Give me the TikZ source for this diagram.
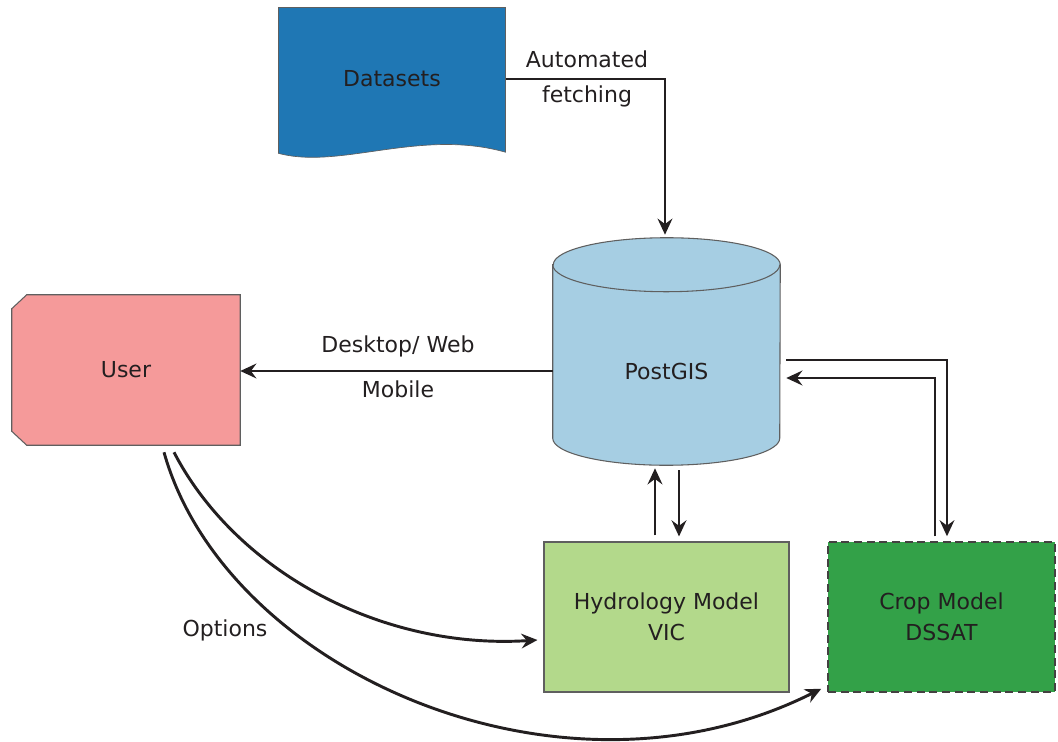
\documentclass[tikz,border=0pt]{standalone}
\usepackage{fontspec}
\setmainfont{DejaVu Sans}
\usepackage{tikz}
\usetikzlibrary{calc, positioning, arrows.meta}
\definecolor{InkBlack}{RGB}{35, 31, 32}
\definecolor{EdgeGrey}{RGB}{95, 95, 95}
\definecolor{DataBlue}{RGB}{31, 119, 180}
\definecolor{StoreBlue}{RGB}{166, 206, 227}
\definecolor{UserPink}{RGB}{245, 154, 154}
\definecolor{HydroGreen}{RGB}{179, 217, 139}
\definecolor{CropGreen}{RGB}{51, 161, 72}

\tikzset{
  txt/.style={font=\fontsize{16.5}{23}\selectfont, text=InkBlack, align=center},
  box/.style={txt, inner sep=0pt},
  flow/.style={InkBlack, line width=2.2pt, -{Stealth[length=12pt, width=11pt, inset=4pt]}},
  rim/.style={EdgeGrey, line width=0.8pt}
}

\begin{document}
\begin{tikzpicture}[x=0.75pt, y=-0.75pt]
    \useasboundingbox (0,0) rectangle (1058,742);

    % Datasets
    \node[box, minimum width=170.25pt, minimum height=106.5pt] (data) at (392,79) {};
    \fill[DataBlue] (data.north west) -- (data.north east) -- ($(data.south east)+(0,2)$)
        .. controls (420,128) and (340,170) .. ($(data.south west)+(0,3)$) -- cycle;
    \draw[rim] ($(data.south west)+(0,3)$) -- (data.north west) -- (data.north east) -- ($(data.south east)+(0,2)$);
    \draw[EdgeGrey, line width=0.5pt] ($(data.south east)+(0,2)$)
        .. controls (420,128) and (340,170) .. ($(data.south west)+(0,3)$);
    \node[txt] at (data) {Datasets};

    % PostGIS
    \node[box, minimum width=170.25pt, minimum height=141pt] (pg) at (666.5,371) {};
    \filldraw[rim, fill=StoreBlue] ($(pg.north west)+(0,-12)$) -- ($(pg.south west)+(0,-27)$)
        arc[start angle=180, end angle=360, x radius=85.125pt, y radius=20.25pt]
        -- ($(pg.north east)+(0,-12)$)
        arc[start angle=0, end angle=180, x radius=85.125pt, y radius=20.25pt] -- cycle;
    \draw[rim] ($(pg.north west)+(0,-12)$)
        arc[start angle=180, end angle=360, x radius=85.125pt, y radius=20.25pt];
    \node[txt] at (pg) {PostGIS};

    % User
    \node[box, minimum width=171pt, minimum height=112.5pt] (user) at (126,370) {};
    \filldraw[rim, fill=UserPink] ($(user.north west)+(15,0)$) -- (user.north east) -- (user.south east)
        -- ($(user.south west)+(15,0)$) -- ($(user.south west)+(0,-14)$)
        -- ($(user.north west)+(0,14)$) -- cycle;
    \node[txt] at (user) {User};

    % Modelos
    \node[box, draw=EdgeGrey, line width=0.8pt, fill=HydroGreen, minimum width=183.75pt, minimum height=112.5pt]
        (hydro) at (666.5,617) {Hydrology Model\\VIC};
    \node[box, draw=InkBlack!85, line width=1.1pt, dash pattern=on 6pt off 3.5pt, fill=CropGreen,
        minimum width=170.25pt, minimum height=112.5pt] (crop) at (941.5,617) {Crop Model\\DSSAT};

    % Flujos
    \draw[flow] (data.east) -| ($(pg.north)+(-1.5,-42)$);
    \node[txt] (lblauto) at (587,59) {Automated};
    \node[txt] (lblfetch) at (587,96) {fetching};

    \draw[flow] (pg.west) -- (pg.west -| user.east);
    \node[txt] (lbldesk) at (398,346) {Desktop/ Web};
    \node[txt] (lblmob) at (398,389) {Mobile};

    \draw[flow] ($(hydro.north)+(-11.5,-6)$) -- ($(pg.south)+(-11.5,3)$);
    \draw[flow] ($(pg.south)+(12.5,5)$) -- ($(hydro.north)+(12.5,-5)$);

    \draw[flow] ($(pg.east)+(6,-11)$) -| ($(crop.north)+(5.5,-5)$);
    \draw[flow] ($(crop.north)+(-6.5,-5)$) |- ($(pg.east)+(6,7)$);

    \draw[flow] ($(user.south)+(48,7)$) .. controls (235,570) and (380,650) .. ($(hydro.west)+(-6,23)$);
    \draw[flow] ($(user.south)+(38,7)$) .. controls (225,670) and (560,820) .. ($(crop.south west)+(-6,-4)$);
    \node[txt] (lblopt) at (225,630) {Options};
\end{tikzpicture}
\end{document}
